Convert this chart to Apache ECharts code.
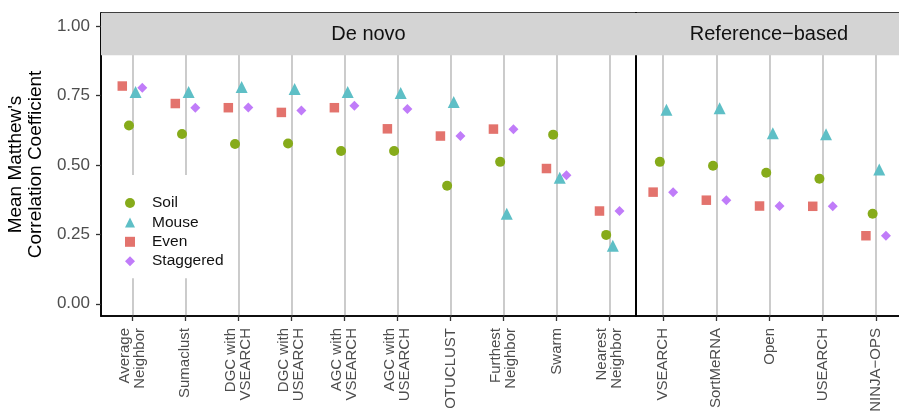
<!DOCTYPE html>
<html>
<head>
<meta charset="utf-8">
<script src="https://cdn.jsdelivr.net/npm/echarts@6/dist/echarts.min.js"></script>
<style>
html,body{margin:0;padding:0;background:#fff;}
#chart{width:899px;height:413px;}
</style>
</head>
<body>
<div id="chart"></div>
<script>
// ---- data ----
const categoriesDeNovo = ["Average\nNeighbor","Sumaclust","DGC with\nVSEARCH","DGC with\nUSEARCH","AGC with\nVSEARCH","AGC with\nUSEARCH","OTUCLUST","Furthest\nNeighbor","Swarm","Nearest\nNeighbor"];
const categoriesRef = ["VSEARCH","SortMeRNA","Open","USEARCH","NINJA\u2212OPS"];
const panelTitles = ["De novo","Reference\u2212based"];
const seriesNames = ["Soil","Mouse","Even","Staggered"];

const soilDeNovo      = [0.642,0.611,0.575,0.577,0.550,0.550,0.425,0.511,0.609,0.248];
const mouseDeNovo     = [0.755,0.755,0.773,0.766,0.755,0.752,0.719,0.317,0.447,0.202];
const evenDeNovo      = [0.784,0.721,0.706,0.689,0.706,0.630,0.604,0.629,0.487,0.334];
const staggeredDeNovo = [0.778,0.706,0.707,0.696,0.713,0.701,0.604,0.628,0.463,0.334];

const soilRef      = [0.511,0.497,0.472,0.450,0.324];
const mouseRef     = [0.691,0.697,0.607,0.603,0.476];
const evenRef      = [0.402,0.373,0.352,0.351,0.245];
const staggeredRef = [0.402,0.373,0.352,0.351,0.245];

const yTicks = [0, 0.25, 0.5, 0.75, 1.0];

// ---- styles ----
const FONT = "Liberation Sans, Arial, Helvetica, sans-serif";
const colors = {Soil:"#86AB1A", Mouse:"#5EBFC6", Even:"#E3736D", Staggered:"#C07CF9"};
const symbols = {Soil:"circle", Mouse:"triangle", Even:"rect", Staggered:"diamond"};
const sizes = {Soil:10, Mouse:12, Even:9.5, Staggered:10};
const offsets = {Soil:[-3.3,0], Mouse:[3.3,-2], Even:[-10,0], Staggered:[10,0]};

function pts(vals){ return vals.map((v,i)=>[i,v]); }

function makeSeries(name, vals, gi, stripTitle){
  const s = {
    name: name, type: "scatter",
    xAxisIndex: gi, yAxisIndex: gi,
    symbol: symbols[name], symbolSize: sizes[name], symbolOffset: offsets[name],
    itemStyle: {color: colors[name], opacity: 1},
    emphasis: {disabled: true},
    data: pts(vals), z: 3
  };
  if (stripTitle) {
    s.markArea = {
      silent: true,
      itemStyle: {color: "#d4d4d4", opacity: 1, borderWidth: 0},
      label: {show: true, position: "inside", formatter: stripTitle, fontFamily: FONT, fontSize: 20, color: "#111"},
      data: [[{yAxis: 0.895}, {yAxis: 1.047}]]
    };
  }
  return s;
}

const yMin = -0.044, yMax = 1.047;

function yAxisCfg(gi, withLabels){
  return {
    type: "value", gridIndex: gi, min: yMin, max: yMax, position: "left",
    name: withLabels ? "Mean Matthew's\nCorrelation Coefficient" : "",
    nameLocation: "middle", nameGap: 43, nameRotate: 90,
    nameTextStyle: {fontFamily: FONT, fontSize: 19, color: "#000", lineHeight: 20},
    axisLine: {show: true, onZero: false, lineStyle: {color: "#000", width: 1.6}},
    axisTick: {show: withLabels, inside: false, length: 5, lineStyle: {color: "#333", width: 1.3}, customValues: yTicks},
    axisLabel: {show: withLabels, customValues: yTicks, formatter: v => v.toFixed(2), fontFamily: FONT, fontSize: 17, color: "#4d4d4d", margin: 11},
    splitLine: {show: false}
  };
}

function xAxisCfg(gi, cats, min, max){
  const idx = cats.map((c,i)=>i);
  return {
    type: "value", gridIndex: gi, min: min, max: max, position: "bottom",
    axisLine: {show: true, onZero: false, lineStyle: {color: "#000", width: 1.6}},
    axisTick: {show: true, inside: false, length: 5, lineStyle: {color: "#333", width: 1.3}, customValues: idx},
    axisLabel: {customValues: idx, rotate: 90, formatter: v => cats[Math.round(v)] || "", fontFamily: FONT, fontSize: 15, lineHeight: 15, color: "#4d4d4d", margin: 12},
    splitLine: {show: true, lineStyle: {color: "#bfbfbf", width: 1.6}}
  };
}

const chart = echarts.init(document.getElementById("chart"), null, {renderer: "canvas"});
chart.setOption({
  animation: false,
  backgroundColor: "#fff",
  grid: [
    {left: 101, top: 13, width: 535, height: 303, containLabel: false, outerBoundsMode: "none", show: true, borderColor: "#000", borderWidth: 1.6, backgroundColor: "transparent"},
    {left: 636, top: 13, right: -3, height: 303, containLabel: false, outerBoundsMode: "none", show: true, borderColor: "#000", borderWidth: 1.6, backgroundColor: "transparent"}
  ],
  xAxis: [xAxisCfg(0, categoriesDeNovo, -0.59, 9.5), xAxisCfg(1, categoriesRef, -0.51, 4.49)],
  yAxis: [yAxisCfg(0, true), yAxisCfg(1, false)],
  legend: {
    orient: "vertical", left: 117, top: 175,
    padding: [20, 8, 9, 8],
    backgroundColor: "#fff",
    itemWidth: 10, itemHeight: 10, itemGap: 3.4,
    data: seriesNames,
    textStyle: {fontFamily: FONT, fontSize: 15.5, color: "#111", lineHeight: 16, padding: [0,0,0,12]},
    selectedMode: false
  },
  series: [
    makeSeries("Soil", soilDeNovo, 0, panelTitles[0]),
    makeSeries("Mouse", mouseDeNovo, 0),
    makeSeries("Even", evenDeNovo, 0),
    makeSeries("Staggered", staggeredDeNovo, 0),
    makeSeries("Soil", soilRef, 1, panelTitles[1]),
    makeSeries("Mouse", mouseRef, 1),
    makeSeries("Even", evenRef, 1),
    makeSeries("Staggered", staggeredRef, 1)
  ]
});
</script>
</body>
</html>
